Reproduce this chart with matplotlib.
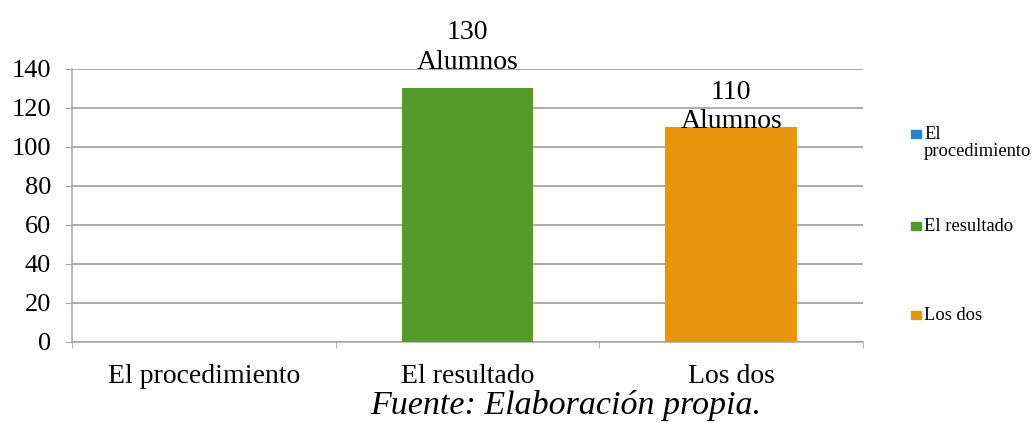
import textwrap
import matplotlib.pyplot as plt
from matplotlib.patches import Rectangle

# Respuestas de los alumnos
categorias = ["El procedimiento", "El resultado", "Los dos"]
alumnos = [0, 130, 110]
colores = ["#2484d1", "#559a2c", "#e6950f"]
yticks = [0, 20, 40, 60, 80, 100, 120, 140]

plt.rcParams['font.family'] = ['Liberation Serif', 'DejaVu Serif']

fig = plt.figure(figsize=(10.32, 4.23), dpi=100)
ax = fig.add_axes([0.0698, 0.1915, 0.7665, 0.6455])

x = list(range(len(categorias)))
barras = ax.bar(x, alumnos, width=0.5, color=colores, zorder=3)

# etiquetas de datos encima de cada barra
desfases = [10, 10, -5]
for b, v, d in zip(barras, alumnos, desfases):
    if v == 0:
        continue
    ax.annotate(f"{v}\nAlumnos", (b.get_x() + b.get_width() / 2, v),
                xytext=(0, d), textcoords='offset points',
                ha='center', va='bottom', fontsize=20, linespacing=1.25,
                zorder=4)

ax.set_xlim(-0.5, len(categorias) - 0.5)
ax.set_ylim(0, 140)
ax.set_yticks(yticks)
ax.tick_params(axis='y', labelsize=19, length=5, color='#a6a6a6', pad=10)
ax.set_xticks(x)
ax.set_xticklabels(categorias, fontsize=20)
ax.tick_params(axis='x', length=0, pad=16)
# marcas entre categorias
ax.set_xticks([i - 0.5 for i in range(len(categorias) + 1)], minor=True)
ax.tick_params(axis='x', which='minor', length=4.5, color='#a6a6a6')

ax.grid(axis='y', color='#a6a6a6', linewidth=1.3, zorder=0)
for s in ['top', 'right']:
    ax.spines[s].set_visible(False)
for s in ['left', 'bottom']:
    ax.spines[s].set_color('#a6a6a6')
    ax.spines[s].set_linewidth(1.1)

# leyenda a la derecha, con el cuadro alineado a la primera linea
etiquetas = [textwrap.fill(c, 13) for c in categorias]
ley_y = [0.692, 0.475, 0.265]
for c, t, y in zip(colores, etiquetas, ley_y):
    fig.patches.append(Rectangle((0.8825, y - 0.018), 0.0095, 0.018,
                                 transform=fig.transFigure, color=c))
    fig.text(0.8955, y + 0.009, t, ha='left', va='top', fontsize=13.3,
             linespacing=1.0)

fig.text(0.548, 0.021, "Fuente: Elaboración propia.", ha='center',
         va='baseline', fontsize=24.5, style='italic')

fig.savefig("out.png", dpi=100)
